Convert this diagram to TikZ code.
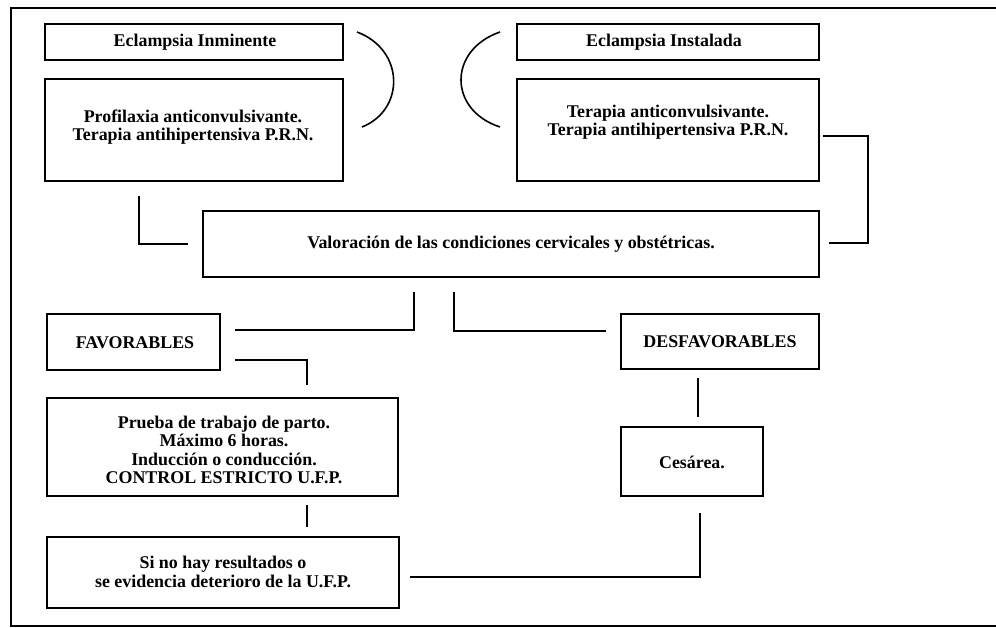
\documentclass[tikz,border=0pt]{standalone}
\usepackage{fontspec}
\setmainfont{Liberation Serif}
\begin{document}
\begin{tikzpicture}[x=1pt,y=-1pt,
  box/.style={draw, line width=1.6pt, inner sep=0pt},
  ln/.style={line width=1.6pt},
  txt/.style={font=\bfseries\fontsize{17.9}{18.5}\selectfont, align=center, inner sep=0pt}]
\useasboundingbox (0,0) rectangle (996,628);
% outer frame
\draw[line width=1.3pt] (1000,8) -- (11,8) -- (11,626) -- (1000,626);
% boxes
\node[box, minimum width=298pt, minimum height=36pt] (inm) at (194,42) {};
\node[txt] (tinm) at (195,42) {Eclampsia Inminente};
\node[box, minimum width=298pt, minimum height=102pt] (prof) at (194,130) {};
\node[txt] (tprof) at (193,127) {Profilaxia anticonvulsivante.\\Terapia antihipertensiva P.R.N.};
\node[box, minimum width=302pt, minimum height=36pt] (inst) at (668,42) {};
\node[txt] (tinst) at (664,42) {Eclampsia Instalada};
\node[box, minimum width=302pt, minimum height=102pt] (ter) at (668,130) {};
\node[txt] (tter) at (668,122) {Terapia anticonvulsivante.\\Terapia antihipertensiva P.R.N.};
\node[box, minimum width=616pt, minimum height=66pt] (val) at (511,244) {};
\node[txt] (tval) at (511,244) {Valoración de las condiciones cervicales y obstétricas.};
\node[box, minimum width=173pt, minimum height=56pt] (fav) at (133.5,342) {};
\node[txt] (tfav) at (135,343) {FAVORABLES};
\node[box, minimum width=198pt, minimum height=55pt] (desf) at (720,341.5) {};
\node[txt] (tdesf) at (720,342) {DESFAVORABLES};
\node[box, minimum width=351pt, minimum height=98pt] (prue) at (222.5,447) {};
\node[txt] (tprue) at (224,450) {Prueba de trabajo de parto.\\Máximo 6 horas.\\Inducción o conducción.\\CONTROL ESTRICTO U.F.P.};
\node[box, minimum width=352pt, minimum height=71pt] (sino) at (223,572.5) {};
\node[txt] (tsino) at (223,572) {Si no hay resultados o\\se evidencia deterioro de la U.F.P.};
\node[box, minimum width=142pt, minimum height=69pt] (ces) at (692,461.5) {};
\node[txt] (tces) at (692,462) {Cesárea.};
% brackets
\draw[ln] (357,32) .. controls (405,50) and (405,110) .. (362,127);
\draw[ln] (500,32) .. controls (448,50) and (448,110) .. (500,127);
% connector ends
\coordinate (a1) at (139,196); \coordinate (a2) at (188,244);
\coordinate (b1) at (823,136); \coordinate (b2) at (829,243);
\coordinate (c1) at (414,292); \coordinate (c2) at (235,330);
\coordinate (d1) at (454,292); \coordinate (d2) at (606,331);
\coordinate (e1) at (235,360); \coordinate (e2) at (307,385);
\coordinate (f1) at (307,505); \coordinate (f2) at (307,527);
\coordinate (g1) at (698,378); \coordinate (g2) at (698,417);
\coordinate (h1) at (410,577); \coordinate (h2) at (700,513);
% connectors
\draw[ln] (a1) |- (a2);
\draw[ln] (b1) -- (868,136) |- (b2);
\draw[ln] (c1) |- (c2);
\draw[ln] (d1) |- (d2);
\draw[ln] (e1) -| (e2);
\draw[ln] (f1) -- (f2);
\draw[ln] (g1) -- (g2);
\draw[ln] (h1) -| (h2);
\end{tikzpicture}
\end{document}
